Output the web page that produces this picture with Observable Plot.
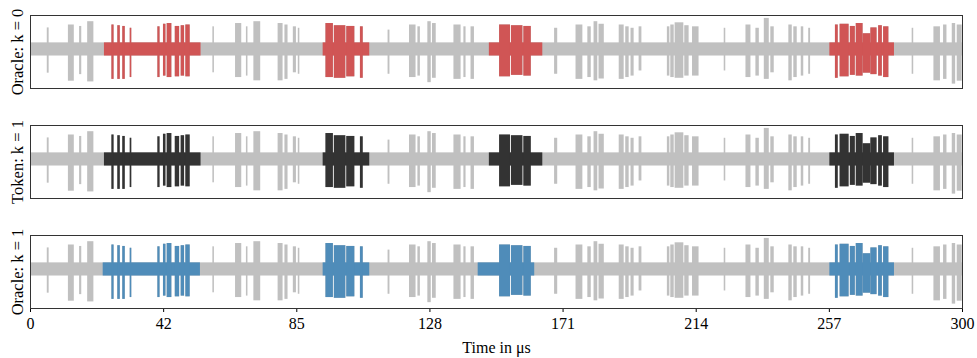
<!DOCTYPE html>
<html>
<head>
<meta charset="utf-8">
<script src="https://cdn.jsdelivr.net/npm/d3@7"></script>
<script src="https://cdn.jsdelivr.net/npm/@observablehq/plot@0.6"></script>
<style>
  body { margin: 0; background: #fff; }
  #chart svg { display: block; }
</style>
</head>
<body>
<div id="chart"></div>
<script>
// Panels (top to bottom) and their highlight colours
const panels = ["Oracle: k = 0", "Token: k = 1", "Oracle: k = 1"];
const panelColors = ["#d05555", "#333333", "#4f8cb9"];
const grayColor = "#c0c0c0";

// Highlighted time windows (µs) per panel
const highlightStart = [
  [23.8, 94.2, 147.7, 257.3],
  [23.8, 94.2, 147.7, 257.3],
  [23.4, 94.2, 144.1, 257.3]
];
const highlightEnd = [
  [54.9, 109.2, 164.9, 278.1],
  [54.9, 109.2, 164.9, 278.1],
  [54.7, 109.2, 162.3, 278.1]
];

// Baseline noise band (whole trace)
const baselineStart = 0, baselineEnd = 300, baselineHigh = 0.25, baselineLow = -0.11;

// Bursts of the trace: start, end (µs), upper and lower envelope
const burstStart = [5.4, 12.2, 15.8, 18.4, 26.2, 28.1, 29.7, 32.1, 41.0, 42.8, 44.0, 46.6, 48.5, 50.0,
  58.7, 66.0, 69.5, 71.9, 79.7, 81.9, 84.6, 86.2, 95.1, 97.8, 101.8, 106.2,
  115.1, 122.0, 124.7, 127.9, 129.4, 136.3, 139.5, 141.8, 151.0, 154.8, 158.8,
  168.7, 175.6, 179.4, 181.4, 183.0, 189.5, 191.6, 193.3, 195.9, 205.0, 206.1, 207.5, 210.6, 213.1,
  223.3, 230.3, 233.5, 236.2, 238.3, 244.1, 245.7, 248.1, 250.5,
  259.1, 260.6, 263.9, 265.8, 268.0, 270.5, 273.0, 274.6, 283.8, 290.8, 293.9, 296.7, 298.3];
const burstEnd = [6.0, 14.1, 16.5, 20.4, 26.9, 28.9, 30.5, 32.6, 41.7, 43.6, 45.5, 48.0, 49.6, 51.4,
  59.2, 68.0, 70.0, 74.1, 81.3, 82.9, 85.6, 86.7, 97.5, 101.5, 104.4, 107.1,
  115.7, 124.1, 125.5, 129.0, 130.6, 138.6, 140.2, 142.9, 154.5, 158.5, 161.2,
  169.7, 177.8, 180.5, 182.6, 184.7, 191.1, 192.7, 194.3, 196.8, 205.8, 207.2, 210.3, 212.0, 215.2,
  223.8, 231.9, 234.6, 237.8, 239.4, 245.2, 246.8, 248.9, 251.1,
  260.0, 263.5, 265.5, 268.0, 270.5, 272.5, 274.2, 276.3, 284.3, 292.9, 295.0, 297.8, 299.9];
const burstHigh = [0.66, 0.74, 0.70, 0.83, 0.74, 0.72, 0.70, 0.65, 0.69, 0.76, 0.78, 0.70, 0.72, 0.74,
  0.69, 0.78, 0.69, 0.83, 0.78, 0.74, 0.69, 0.65, 0.78, 0.72, 0.70, 0.69,
  0.60, 0.74, 0.69, 0.83, 0.78, 0.74, 0.69, 0.69, 0.74, 0.72, 0.70,
  0.65, 0.74, 0.69, 0.83, 0.76, 0.74, 0.69, 0.65, 0.69, 0.69, 0.74, 0.80, 0.72, 0.69,
  0.65, 0.74, 0.65, 0.92, 0.69, 0.74, 0.69, 0.69, 0.65,
  0.74, 0.76, 0.70, 0.78, 0.50, 0.66, 0.72, 0.69, 0.65, 0.69, 0.74, 0.78, 0.74];
const burstLow = [-0.58, -0.80, -0.62, -0.82, -0.75, -0.75, -0.75, -0.70, -0.70, -0.66, -0.70, -0.68, -0.66, -0.68,
  -0.57, -0.70, -0.66, -0.79, -0.79, -0.75, -0.57, -0.61, -0.70, -0.72, -0.68, -0.72,
  -0.61, -0.70, -0.66, -0.84, -0.72, -0.75, -0.70, -0.75, -0.68, -0.64, -0.66,
  -0.61, -0.75, -0.70, -0.79, -0.74, -0.75, -0.70, -0.66, -0.52, -0.66, -0.70, -0.72, -0.66, -0.66,
  -0.52, -0.70, -0.66, -0.75, -0.57, -0.79, -0.70, -0.66, -0.61,
  -0.72, -0.68, -0.64, -0.66, -0.58, -0.62, -0.66, -0.70, -0.61, -0.79, -0.75, -0.88, -0.80];

// Axis ticks
const xTickValues = [0, 42.857, 85.714, 128.571, 171.429, 214.286, 257.143, 300];
const xTickLabels = ["0", "42", "85", "128", "171", "214", "257", "300"];

// Build segment table
const pieces = [{start: baselineStart, end: baselineEnd, high: baselineHigh, low: baselineLow}];
burstStart.forEach((s, i) => pieces.push({start: s, end: burstEnd[i], high: burstHigh[i], low: burstLow[i]}));

const segments = [];
panels.forEach((panel, p) => {
  pieces.forEach(d => segments.push({panel, x1: d.start, x2: d.end, y1: d.low, y2: d.high, fill: grayColor, order: 0}));
  highlightStart[p].forEach((hs, h) => {
    const he = highlightEnd[p][h];
    pieces.forEach(d => {
      const a = Math.max(hs, d.start), b = Math.min(he, d.end);
      if (b > a) segments.push({panel, x1: a, x2: b, y1: d.low, y2: d.high, fill: panelColors[p], order: 1});
    });
  });
});

const chart = Plot.plot({
  width: 977,
  height: 358,
  marginTop: 14,
  marginBottom: 48,
  marginLeft: 30,
  marginRight: 15,
  style: {fontFamily: "'Liberation Serif', 'DejaVu Serif', serif", fontSize: "16px", background: "#fff", color: "#000"},
  x: {domain: [0, 300], ticks: xTickValues, tickFormat: (d, i) => xTickLabels[i], tickSize: 4,
      label: "Time in μs", labelAnchor: "center", labelArrow: "none", labelOffset: 44},
  y: {domain: [-1, 1], axis: null},
  fy: {domain: panels, axis: null, padding: 0.3333},
  color: {type: "identity"},
  marks: [
    Plot.rect(segments, {x1: "x1", x2: "x2", y1: "y1", y2: "y2", fy: "panel", fill: "fill", sort: "order"}),
    Plot.frame({stroke: "#333", strokeWidth: 1}),
    Plot.text(panels, {fy: d => d, text: d => d, frameAnchor: "left", dx: -13, rotate: -90, textAnchor: "middle", fontSize: 16.5, fill: "#000"})
  ]
});
document.getElementById("chart").appendChild(chart);
</script>
</body>
</html>
